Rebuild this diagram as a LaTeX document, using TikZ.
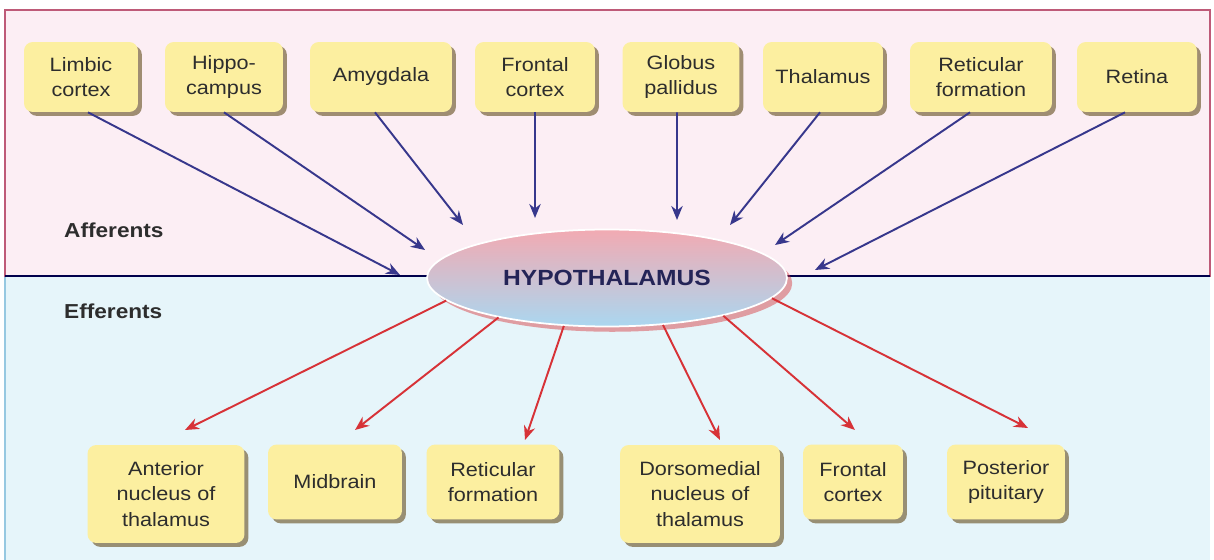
\documentclass[tikz,border=0pt]{standalone}
\usepackage{fontspec}
\setmainfont[FakeStretch=1.12]{Liberation Sans}
\usetikzlibrary{shapes.geometric, positioning, arrows.meta, shadows}

\definecolor{boxyellow}{RGB}{252,239,160}
\definecolor{shadowbrown}{RGB}{120,100,60}
\definecolor{txtgray}{RGB}{45,45,45}
\definecolor{afftop}{RGB}{252,238,244}
\definecolor{effbot}{RGB}{230,245,250}
\definecolor{pinkline}{RGB}{190,90,120}
\definecolor{blueline}{RGB}{150,200,225}
\definecolor{affblue}{RGB}{55,55,140}
\definecolor{effred}{RGB}{215,50,55}
\definecolor{hypopink}{RGB}{242,170,178}
\definecolor{hypoblue}{RGB}{170,215,240}

\begin{document}
\begin{tikzpicture}[
            x=0.02cm, y=-0.02cm,
            box/.style={fill=boxyellow, rounded corners=5pt, align=center,
                minimum height=1.4cm, inner sep=2pt, text=txtgray,
                font=\fontsize{11}{14.5}\selectfont,
                drop shadow={shadow xshift=2.2pt, shadow yshift=-2.2pt, fill=shadowbrown, opacity=0.7}},
            aff/.style={draw=affblue, line width=1.1pt, -{Stealth[length=8pt,width=6.5pt]}},
            eff/.style={draw=effred, line width=1.1pt, -{Stealth[length=8pt,width=6.5pt]}},
            side/.style={anchor=west, font=\fontsize{11.5}{14}\selectfont\bfseries, text=txtgray}
            ]
            \useasboundingbox (0,0) rectangle (1214,560);

            % fondos
            \fill[effbot] (5,276) rectangle (1210,560);
            \draw[blueline, line width=1pt] (5,276) -- (5,560);
            \draw[pinkline, line width=1pt, fill=afftop] (5,10) rectangle (1210,276);
            \draw[black!70!blue, line width=0.9pt] (5,276) -- (1210,276);

            \node[side] (afflabel) at (58,230) {Afferents};
            \node[side] (efflabel) at (58,311) {Efferents};

            % aferencias
            \node[box, minimum width=2.28cm] (limbic) at (81,77) {Limbic\\cortex};
            \node[box, minimum width=2.36cm] (hippo) at (224,77) {Hippo-\\campus};
            \node[box, minimum width=2.84cm] (amyg) at (381,77) {Amygdala};
            \node[box, minimum width=2.40cm] (frontal) at (535,77) {Frontal\\cortex};
            \node[box, minimum width=2.34cm] (globus) at (681,77) {Globus\\pallidus};
            \node[box, minimum width=2.40cm] (thal) at (823,77) {Thalamus};
            \node[box, minimum width=2.84cm] (retic) at (981,77) {Reticular\\formation};
            \node[box, minimum width=2.40cm] (retina) at (1137,77) {Retina};

            % eferencias
            \node[box, minimum width=3.14cm, minimum height=1.96cm] (anterior) at (166,494) {Anterior\\nucleus of\\thalamus};
            \node[box, minimum width=2.68cm, minimum height=1.5cm] (midbrain) at (335,482) {Midbrain};
            \node[box, minimum width=2.66cm, minimum height=1.5cm] (reticb) at (493,482) {Reticular\\formation};
            \node[box, minimum width=3.20cm, minimum height=1.96cm] (dorso) at (700,494) {Dorsomedial\\nucleus of\\thalamus};
            \node[box, minimum width=2.00cm, minimum height=1.5cm] (frontalb) at (853,482) {Frontal\\cortex};
            \node[box, minimum width=2.36cm, minimum height=1.5cm] (posterior) at (1006,482) {Posterior\\pituitary};

            % hipotalamo
            \node[ellipse, minimum width=7.2cm, minimum height=1.94cm, inner sep=0pt,
                top color=hypopink, bottom color=hypoblue, draw=white, line width=1pt,
                drop shadow={shadow xshift=3pt, shadow yshift=-3pt, fill=effred, opacity=0.45},
                font=\fontsize{12.5}{14}\selectfont\bfseries, text=txtgray!80!blue] (hypo) at (607,278) {HYPOTHALAMUS};

            % puntas de flecha
            \coordinate (a1) at (400,275);
            \coordinate (a2) at (425,250);
            \coordinate (a3) at (463,225);
            \coordinate (a4) at (535,218);
            \coordinate (a5) at (677,220);
            \coordinate (a6) at (730,225);
            \coordinate (a7) at (775,245);
            \coordinate (a8) at (815,270);
            \coordinate (e1) at (185,430);
            \coordinate (e2) at (355,430);
            \coordinate (e3) at (525,440);
            \coordinate (e4) at (720,440);
            \coordinate (e5) at (855,430);
            \coordinate (e6) at (1028,428);

            \draw[aff] ([xshift=0.14cm]limbic.south) -- (a1);
            \draw[aff] (hippo.south) -- (a2);
            \draw[aff] ([xshift=-0.12cm]amyg.south) -- (a3);
            \draw[aff] (frontal.south) -- (a4);
            \draw[aff] ([xshift=-0.08cm]globus.south) -- (a5);
            \draw[aff] ([xshift=-0.06cm]thal.south) -- (a6);
            \draw[aff] ([xshift=-0.22cm]retic.south) -- (a7);
            \draw[aff] ([xshift=-0.24cm]retina.south) -- (a8);

            \draw[eff] (hypo.188) -- (e1);
            \draw[eff] (hypo.200) -- (e2);
            \draw[eff] (hypo.228) -- (e3);
            \draw[eff] (hypo.320) -- (e4);
            \draw[eff] (hypo.342) -- (e5);
            \draw[eff] (hypo.353) -- (e6);

        \end{tikzpicture}
\end{document}
